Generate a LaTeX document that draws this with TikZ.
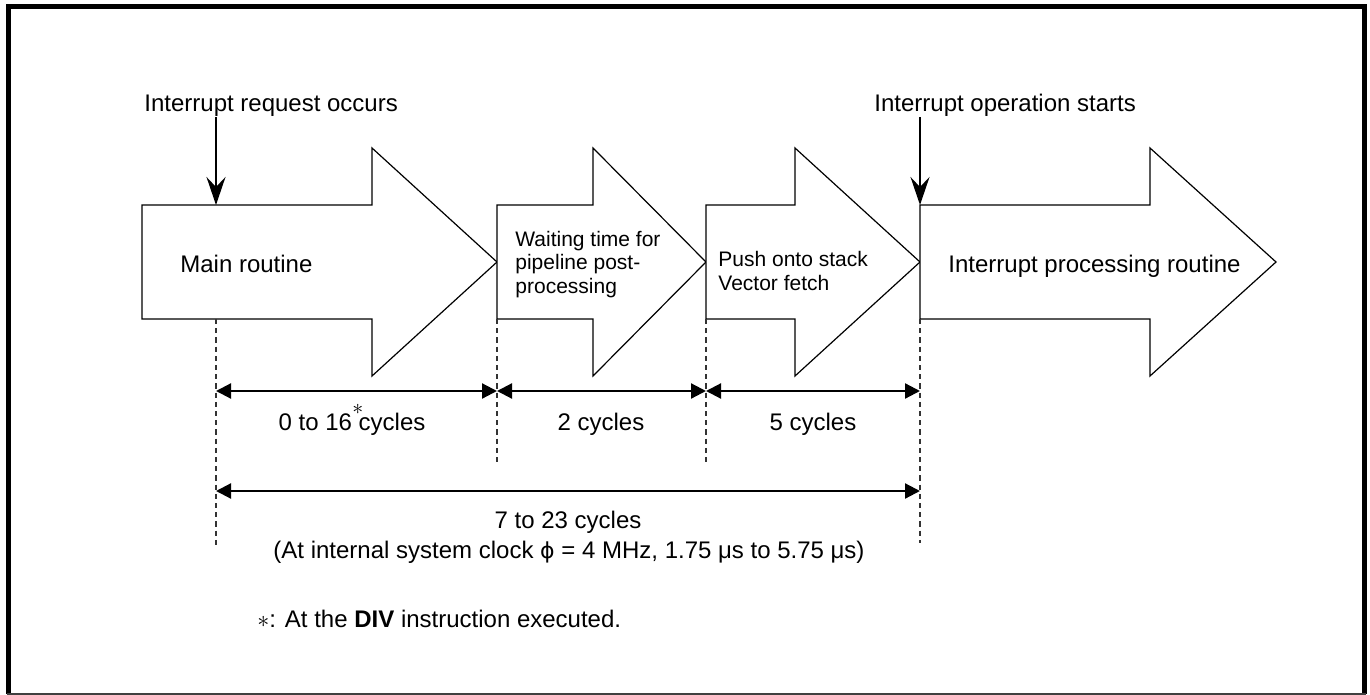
\documentclass[tikz,border=0pt]{standalone}
\usepackage{fontspec}
\setmainfont{Liberation Sans}
\newfontfamily\phifont{DejaVu Sans}
\usetikzlibrary{arrows.meta}
\begin{document}
\begin{tikzpicture}[x=0.5pt,y=-0.5pt,
  box/.style={draw=black, line width=0.6pt, fill=white, line join=miter},
  lbl/.style={font=\fontsize{12}{14}\selectfont, inner sep=0pt},
  small/.style={font=\fontsize{10.5}{12}\selectfont, inner sep=0pt, anchor=base west},
  guide/.style={draw=black!80, line width=0.6pt, dash pattern=on 2.6pt off 2pt},
  dim/.style={line width=1.1pt, {Triangle[length=7.5pt,width=7.5pt]}-{Triangle[length=7.5pt,width=7.5pt]}},
  event/.style={line width=1.1pt, -{Stealth[length=14pt,width=9.5pt,inset=5pt]}}
]
\useasboundingbox (0,0) rectangle (1370,695);
% frame
\draw[line width=2.5pt, line join=miter] (8.5,694) -- (8.5,6.5) -- (1364.5,6.5) -- (1364.5,694);
\draw[line width=0.6pt, black!75] (7,694) -- (1366,694);

% block arrows
\draw[box] (142,205) -- (372,205) -- (372,148) -- (497,262) -- (372,376) -- (372,319) -- (142,319) -- cycle;
\draw[box] (497,205) -- (593,205) -- (593,148) -- (706,262) -- (593,376) -- (593,319) -- (497,319) -- cycle;
\draw[box] (706,205) -- (795,205) -- (795,148) -- (920,262) -- (795,376) -- (795,319) -- (706,319) -- cycle;
\draw[box] (920,205) -- (1150,205) -- (1150,148) -- (1276,262) -- (1150,376) -- (1150,319) -- (920,319) -- cycle;

% texts in arrows
\node[lbl, anchor=base west] (main) at (180,272) {Main routine};
\node[small] (w1) at (515,247) {Waiting time for};
\node[small] (w2) at (515,270) {pipeline post-};
\node[small] (w3) at (515,293) {processing};
\node[small] (p1) at (718,267) {Push onto stack};
\node[small] (p2) at (718,291) {Vector fetch};
\node[lbl, anchor=base west] (irt) at (948,272) {Interrupt processing routine};

% event labels and arrows
\node[lbl, anchor=base west] (req) at (144,112) {Interrupt request occurs};
\node[lbl, anchor=base west] (ops) at (874,112) {Interrupt operation starts};
\coordinate (tA) at (216,205);
\coordinate (tD) at (920,205);
\draw[event] (req.south -| tA) -- (tA);
\draw[event] (ops.south -| tD) -- (tD);

% guide lines
\coordinate (g0t) at (216,319); \coordinate (g0b) at (216,548);
\coordinate (g1t) at (497,319); \coordinate (g1b) at (497,466);
\coordinate (g2t) at (706,319); \coordinate (g2b) at (706,466);
\coordinate (g3t) at (920,319); \coordinate (g3b) at (920,543);
\draw[guide] (g0t) -- (g0b);
\draw[guide] (g1t) -- (g1b);
\draw[guide] (g2t) -- (g2b);
\draw[guide] (g3t) -- (g3b);

% dimension arrows
\coordinate (d0) at (216,391); \coordinate (d1) at (497,391);
\coordinate (d2) at (706,391); \coordinate (d3) at (920,391);
\draw[dim] (d0) -- (d1);
\draw[dim] (d1) -- (d2);
\draw[dim] (d2) -- (d3);
\coordinate (e0) at (216,491); \coordinate (e1) at (920,491);
\draw[dim] (e0) -- (e1);

% dimension labels
\node[lbl, anchor=base] (c0) at (352,430) {0 to 16\makebox[0pt][l]{\hspace{0.2pt}\raisebox{1.25ex}{\fontsize{11}{11}\selectfont $\ast$}} cycles};
\node[lbl, anchor=base] (c1) at (601,430) {2 cycles};
\node[lbl, anchor=base] (c2) at (813,430) {5 cycles};
\node[lbl, anchor=base] (c3) at (568,528) {7 to 23 cycles};
\node[lbl, anchor=base] (c4) at (569,558) {(At internal system clock {\phifont\fontsize{11}{14}\selectfont ϕ} = 4 MHz, 1.75 μs to 5.75 μs)};

% footnote
\node[lbl, anchor=base west] (note) at (257,627) {$\ast$: At the \textbf{DIV} instruction executed.};
\end{tikzpicture}
\end{document}
